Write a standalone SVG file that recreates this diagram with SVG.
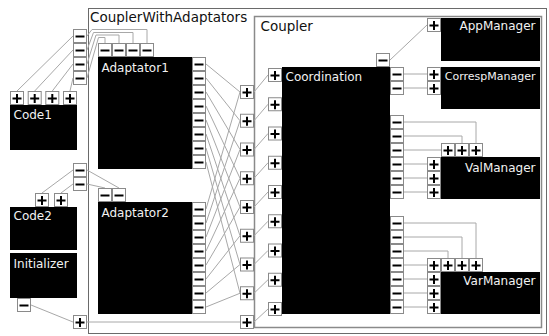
<svg xmlns="http://www.w3.org/2000/svg" xmlns:xlink="http://www.w3.org/1999/xlink" width="549" height="336" viewBox="0 0 549 336">
<style>
.box{fill:#000}
.lbl{font-family:"DejaVu Sans",sans-serif;font-size:12px;fill:#f2f2f2}
.sm{font-size:11px}
.ttl{font-family:"DejaVu Sans",sans-serif;font-size:13.5px;fill:#111}
.cn{fill:none;stroke:#a8a8a8;stroke-width:1}
.pb{fill:#fff;stroke:#8a8a8a;stroke-width:1}
.sg{stroke:#000;stroke-width:2;fill:none}
</style>
<defs>
<g id="pp"><rect class="pb" x="0.5" y="0.5" width="13" height="13"/><path class="sg" d="M2.5 7.5H11.5M7 3V12"/></g>
<g id="pm"><rect class="pb" x="0.5" y="0.5" width="13" height="13"/><path class="sg" d="M2.5 7.5H11.5"/></g>
</defs>

<g id="CouplerWithAdaptators">
<rect x="88.5" y="8.5" width="458" height="325" fill="#fff" stroke="#6a6a6a"/>
<text class="ttl" x="90" y="22">CouplerWithAdaptators</text>
<use href="#pm" x="73" y="29"/><use href="#pm" x="73" y="43"/><use href="#pm" x="73" y="57"/><use href="#pm" x="73" y="71"/>
<use href="#pm" x="73" y="163"/><use href="#pm" x="73" y="177"/>
<use href="#pp" x="73" y="315"/>
</g>

<g id="Coupler">
<rect x="254.5" y="16.5" width="287" height="311" fill="#fff" stroke="#8a8a8a" stroke-width="1.5"/>
<text class="ttl" x="260.5" y="30.5">Coupler</text>
<use href="#pp" x="240" y="85"/><use href="#pp" x="240" y="113.75"/><use href="#pp" x="240" y="142.5"/><use href="#pp" x="240" y="171.25"/><use href="#pp" x="240" y="200"/><use href="#pp" x="240" y="228.75"/><use href="#pp" x="240" y="257.5"/><use href="#pp" x="240" y="286.25"/><use href="#pp" x="240" y="315"/>
</g>

<g id="connectors">
<path class="cn" d="M17 91L73 36M34.7 91L73 50M52.3 91L73 64M70 91L73 78"/>
<path class="cn" d="M87 36L92 29.5H147V43M87 50L93.5 32.5H133V43M87 64L96 35H119V43M87 78L98.5 37.5H105V43"/>
<path class="cn" d="M42 193L73 170M61 193L73 184M87 170L119 188M87 184L105 188"/>
<path class="cn" d="M31 305L73 322M87 322H240"/>
<path class="cn" d="M206 64L240 92M206 78L240 120.75M206 92L240 149.5M206 106L240 178.25M206 120L240 207M206 134L240 235.75M206 148L240 264.5M206 162L240 293.25"/>
<path class="cn" d="M206 209L240 92M206 223L240 120.75M206 237L240 149.5M206 251L240 178.25M206 265L240 207M206 279L240 235.75M206 293L240 264.5M206 307L240 293.25"/>
<path class="cn" d="M254 92L268 75M254 120.75L268 104.25M254 149.5L268 133.5M254 178.25L268 162.75M254 207L268 192M254 235.75L268 221.25M254 264.5L268 250.5M254 293.25L268 279.75M254 322L268 309"/>
<path class="cn" d="M390 60L427 25M404 74H427M404 88H427"/>
<path class="cn" d="M404 122H476V143M404 136H462V143M404 150H441M404 164H427M404 178H427M404 192H427"/>
<path class="cn" d="M404 223H476V258M404 237H462V258M404 251H448V258M404 265H427M404 279H427M404 293H427M404 307H427"/>
</g>

<g id="Code1">
<rect class="box" x="10" y="105" width="67" height="45"/>
<text class="lbl" x="13.5" y="118.5">Code1</text>
<use href="#pp" x="10" y="91"/><use href="#pp" x="27.7" y="91"/><use href="#pp" x="45.3" y="91"/><use href="#pp" x="63" y="91"/>
</g>

<g id="Code2">
<rect class="box" x="10" y="207" width="67" height="43"/>
<text class="lbl" x="13.5" y="220">Code2</text>
<use href="#pp" x="35" y="193"/><use href="#pp" x="54" y="193"/>
</g>

<g id="Initializer">
<rect class="box" x="10" y="253" width="67" height="45"/>
<text class="lbl" x="13.5" y="268">Initializer</text>
<use href="#pm" x="17" y="298"/>
</g>

<g id="Adaptator1">
<rect class="box" x="98" y="57" width="94" height="112"/>
<text class="lbl" x="101.5" y="71.5">Adaptator1</text>
<use href="#pm" x="98" y="43"/><use href="#pm" x="112" y="43"/><use href="#pm" x="126" y="43"/><use href="#pm" x="140" y="43"/>
<use href="#pm" x="192" y="57"/><use href="#pm" x="192" y="71"/><use href="#pm" x="192" y="85"/><use href="#pm" x="192" y="99"/><use href="#pm" x="192" y="113"/><use href="#pm" x="192" y="127"/><use href="#pm" x="192" y="141"/><use href="#pm" x="192" y="155"/>
</g>

<g id="Adaptator2">
<rect class="box" x="98" y="202" width="94" height="112"/>
<text class="lbl" x="101.5" y="216.5">Adaptator2</text>
<use href="#pm" x="98" y="188"/><use href="#pm" x="112" y="188"/>
<use href="#pm" x="192" y="202"/><use href="#pm" x="192" y="216"/><use href="#pm" x="192" y="230"/><use href="#pm" x="192" y="244"/><use href="#pm" x="192" y="258"/><use href="#pm" x="192" y="272"/><use href="#pm" x="192" y="286"/><use href="#pm" x="192" y="300"/>
</g>

<g id="Coordination">
<rect class="box" x="282" y="67" width="108" height="247"/>
<text class="lbl" x="285.5" y="81">Coordination</text>
<use href="#pp" x="268" y="68"/><use href="#pp" x="268" y="97.25"/><use href="#pp" x="268" y="126.5"/><use href="#pp" x="268" y="155.75"/><use href="#pp" x="268" y="185"/><use href="#pp" x="268" y="214.25"/><use href="#pp" x="268" y="243.5"/><use href="#pp" x="268" y="272.75"/><use href="#pp" x="268" y="302"/>
<use href="#pm" x="376" y="53"/>
<use href="#pm" x="390" y="67"/><use href="#pm" x="390" y="81"/>
<use href="#pm" x="390" y="115"/><use href="#pm" x="390" y="129"/><use href="#pm" x="390" y="143"/><use href="#pm" x="390" y="157"/><use href="#pm" x="390" y="171"/><use href="#pm" x="390" y="185"/>
<use href="#pm" x="390" y="216"/><use href="#pm" x="390" y="230"/><use href="#pm" x="390" y="244"/><use href="#pm" x="390" y="258"/><use href="#pm" x="390" y="272"/><use href="#pm" x="390" y="286"/><use href="#pm" x="390" y="300"/>
</g>

<g id="AppManager">
<rect class="box" x="441" y="18" width="99" height="43"/>
<text class="lbl" x="535.5" y="29.5" text-anchor="end">AppManager</text>
<use href="#pp" x="427" y="18"/>
</g>

<g id="CorrespManager">
<rect class="box" x="441" y="67" width="99" height="42"/>
<text class="lbl sm" x="535.5" y="80" text-anchor="end">CorrespManager</text>
<use href="#pp" x="427" y="67"/><use href="#pp" x="427" y="81"/>
</g>

<g id="ValManager">
<rect class="box" x="441" y="157" width="99" height="42"/>
<text class="lbl" x="535.5" y="171.5" text-anchor="end">ValManager</text>
<use href="#pp" x="441" y="143"/><use href="#pp" x="455" y="143"/><use href="#pp" x="469" y="143"/>
<use href="#pp" x="427" y="157"/><use href="#pp" x="427" y="171"/><use href="#pp" x="427" y="185"/>
</g>

<g id="VarManager">
<rect class="box" x="441" y="272" width="99" height="42"/>
<text class="lbl" x="535.5" y="285" text-anchor="end">VarManager</text>
<use href="#pp" x="427" y="258"/><use href="#pp" x="441" y="258"/><use href="#pp" x="455" y="258"/><use href="#pp" x="469" y="258"/>
<use href="#pp" x="427" y="272"/><use href="#pp" x="427" y="286"/><use href="#pp" x="427" y="300"/>
</g>
</svg>
